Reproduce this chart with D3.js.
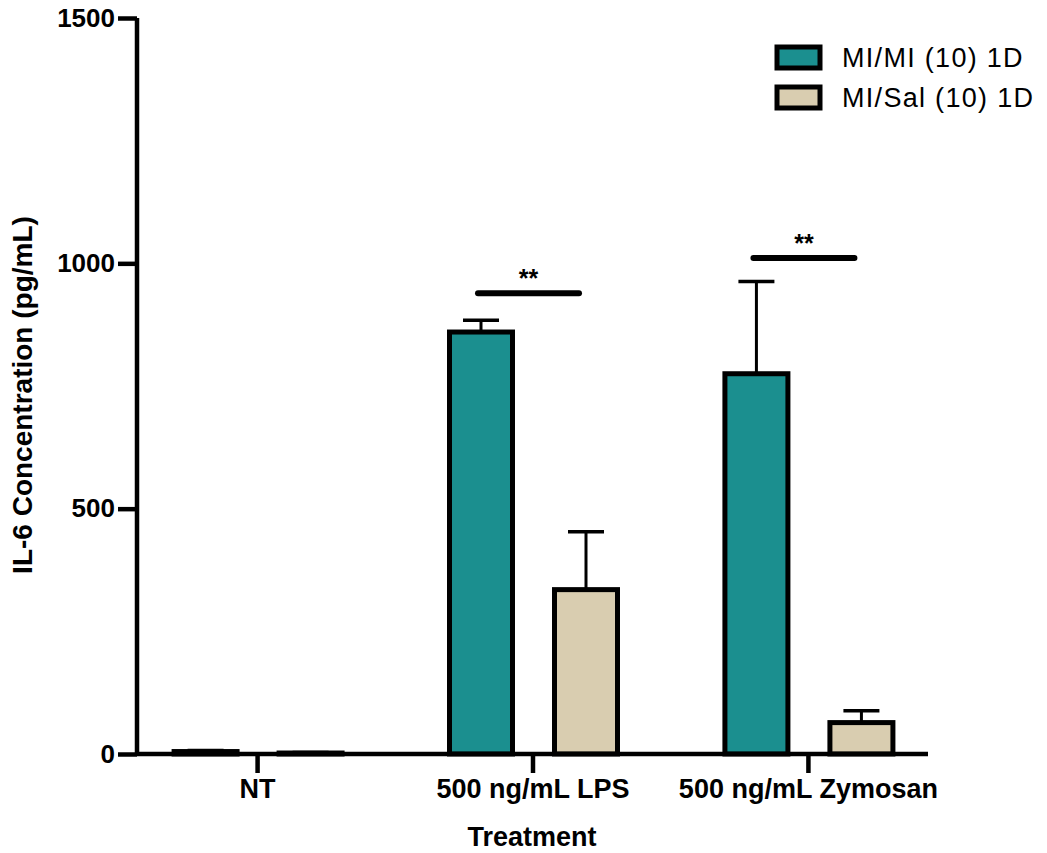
<!DOCTYPE html>
<html>
<head>
<meta charset="utf-8">
<script src="https://cdn.jsdelivr.net/npm/d3@7"></script>
<style>
  body { margin: 0; background: #fff; }
  text { font-family: "Liberation Sans", Arial, sans-serif; }
</style>
</head>
<body>
<div id="chart"></div>
<script>
const categories = ["NT", "500 ng/mL LPS", "500 ng/mL Zymosan"];
const seriesNames = ["MI/MI (10) 1D", "MI/Sal (10) 1D"];
const miMiMeans = [5, 860, 775];
const miMiErr = [2, 24, 188];
const miSalMeans = [2, 335, 64];
const miSalErr = [1, 118, 24];
const yTicks = [0, 500, 1000, 1500];
// significance bars: category, height, label
const sigCats = ["500 ng/mL LPS", "500 ng/mL Zymosan"];
const sigLevels = [939, 1011];
const sigLabels = ["**", "**"];

const width = 1047, height = 853;
const teal = "#1b8f8f", beige = "#d9cdb0";
const colors = [teal, beige];

const svg = d3.select("#chart").append("svg")
    .attr("width", width)
    .attr("height", height);

const x = d3.scalePoint()
    .domain(categories)
    .range([137, 928])
    .padding(0.436);

const sub = d3.scaleBand()
    .domain(seriesNames)
    .range([-83, 85])
    .paddingInner(0.4);

const y = d3.scaleLinear()
    .domain([0, 1500])
    .range([754, 18]);

const rows = [];
categories.forEach((c, i) => {
    rows.push({cat: c, s: seriesNames[0], v: miMiMeans[i], e: miMiErr[i], col: colors[0]});
    rows.push({cat: c, s: seriesNames[1], v: miSalMeans[i], e: miSalErr[i], col: colors[1]});
});

// error bars (drawn under bars)
const eb = svg.append("g");
rows.forEach(d => {
    const cx = x(d.cat) + sub(d.s) + sub.bandwidth() / 2;
    eb.append("line")
        .attr("x1", cx).attr("x2", cx)
        .attr("y1", y(d.v)).attr("y2", y(d.v + d.e))
        .attr("stroke", "#000").attr("stroke-width", 3);
    eb.append("line")
        .attr("x1", cx - 18).attr("x2", cx + 18)
        .attr("y1", y(d.v + d.e)).attr("y2", y(d.v + d.e))
        .attr("stroke", "#000").attr("stroke-width", 3.5);
});

svg.append("g").selectAll("rect")
    .data(rows)
    .join("rect")
    .attr("x", d => x(d.cat) + sub(d.s))
    .attr("y", d => y(d.v))
    .attr("width", sub.bandwidth())
    .attr("height", d => y(0) - y(d.v))
    .attr("fill", d => d.col)
    .attr("stroke", "#000")
    .attr("stroke-width", 5);

// axes
const yAxis = svg.append("g")
    .attr("transform", "translate(137,0)")
    .call(d3.axisLeft(y).tickValues(yTicks).tickSize(19).tickPadding(3).tickFormat(d3.format("d")));
yAxis.select(".domain").attr("d", `M0,${y(1500)}V${y(0)}`).attr("stroke-width", 4.5);
yAxis.selectAll(".tick line").attr("stroke-width", 4.5);
yAxis.selectAll(".tick text")
    .attr("font-size", 26).attr("font-weight", "bold").attr("fill", "#000")
    .attr("font-family", "Liberation Sans, Arial, sans-serif");

const xAxis = svg.append("g")
    .attr("transform", `translate(0,${y(0)})`)
    .call(d3.axisBottom(x).tickSize(19).tickPadding(6));
xAxis.select(".domain").attr("d", "M137,0H928").attr("stroke-width", 4.5);
xAxis.selectAll(".tick line").attr("stroke-width", 4.5);
xAxis.selectAll(".tick text")
    .attr("font-size", 27).attr("font-weight", "bold").attr("fill", "#000")
    .attr("font-family", "Liberation Sans, Arial, sans-serif");

// axis titles
svg.append("text")
    .attr("x", 532).attr("y", 846)
    .attr("text-anchor", "middle")
    .attr("font-size", 27).attr("font-weight", "bold")
    .text("Treatment");

svg.append("text")
    .attr("transform", "translate(32,395) rotate(-90)")
    .attr("text-anchor", "middle")
    .attr("font-size", 28).attr("font-weight", "bold")
    .text("IL-6 Concentration (pg/mL)");

// significance
sigCats.forEach((c, i) => {
    const x1 = x(c) + sub(seriesNames[0]) + sub.bandwidth() / 2 - 3;
    const x2 = x(c) + sub(seriesNames[1]) + sub.bandwidth() / 2 - 7;
    svg.append("line")
        .attr("x1", x1).attr("x2", x2)
        .attr("y1", y(sigLevels[i])).attr("y2", y(sigLevels[i]))
        .attr("stroke", "#000").attr("stroke-width", 6)
        .attr("stroke-linecap", "round");
    svg.append("text")
        .attr("x", (x1 + x2) / 2).attr("y", y(sigLevels[i]) - 6)
        .attr("text-anchor", "middle")
        .attr("font-size", 25).attr("font-weight", "bold")
        .text(sigLabels[i]);
});

// legend
const leg = svg.append("g").attr("transform", "translate(777,47)");
seriesNames.forEach((s, i) => {
    const g = leg.append("g").attr("transform", `translate(0,${i * 40})`);
    g.append("rect")
        .attr("width", 43).attr("height", 21)
        .attr("fill", colors[i]).attr("stroke", "#000").attr("stroke-width", 5);
    g.append("text")
        .attr("x", 65).attr("y", 11).attr("dy", "0.35em")
        .attr("font-size", 27)
        .attr("letter-spacing", "1.3px")
        .text(s);
});
</script>
</body>
</html>
